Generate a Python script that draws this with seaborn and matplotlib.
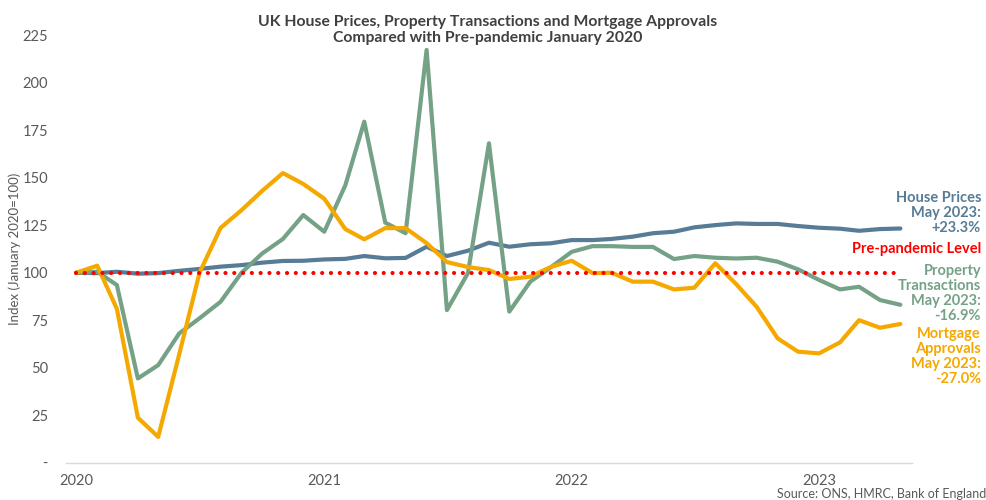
import matplotlib
matplotlib.use("Agg")
import matplotlib.pyplot as plt
import seaborn as sns
import pandas as pd

# monthly index values, Jan 2020 = 100
months = pd.date_range("2020-01-01", "2023-05-01", freq="MS")
house_prices = [100, 99.8, 100.5, 99.5, 99.8, 101, 102, 103.2, 104, 105.3, 106.2, 106.3,
                107, 107.3, 108.8, 107.6, 107.8, 113.7, 108.8, 111.6, 115.8, 113.7, 115, 115.5,
                117.2, 117.2, 117.8, 119, 120.8, 121.6, 123.9, 125.1, 126, 125.7, 125.7, 124.6,
                123.7, 123.2, 122.1, 123, 123.3]
transactions = [100, 100.5, 93.5, 44.3, 51.3, 68, 76, 84.7, 100, 110, 117.8, 130.4,
                121.6, 146, 179.6, 126.4, 120.8, 217.4, 80.3, 99.8, 168.2, 79.5, 95.3, 102.8,
                111, 114, 114, 113.6, 113.6, 107.2, 108.8, 107.9, 107.5, 107.9, 105.8, 101.8,
                96.2, 91.2, 92.6, 85.6, 83.1]
approvals = [100, 103.7, 81, 23.6, 13.5, 57, 100, 123.6, 133, 143, 152.5, 146.8,
             139, 123, 117.6, 123.5, 123.5, 115.6, 105.6, 103, 101.4, 96.7, 97.9, 103,
             106.3, 99.8, 100, 95.3, 95.3, 91.2, 92.1, 105, 93.9, 82, 65.4, 58.4,
             57.5, 63.3, 75, 71, 73]
baseline = 100
series_names = ["House Prices", "Property Transactions", "Mortgage Approvals"]
year_ticks = ["2020", "2021", "2022", "2023"]
y_ticks = [0, 25, 50, 75, 100, 125, 150, 175, 200, 225]

colors = {"House Prices": "#587b96",
          "Property Transactions": "#75a287",
          "Mortgage Approvals": "#f5a800"}

df = pd.DataFrame({"month": list(months) * 3,
                   "value": house_prices + transactions + approvals,
                   "series": [s for s in series_names for _ in months]})

sns.set_theme(style="white")
plt.rcParams["font.family"] = ["Lato", "DejaVu Sans"]

fig = plt.figure(figsize=(9.87, 5), dpi=100)
ax = fig.add_axes([0.0669, 0.075, 0.857, 0.854])

sns.lineplot(data=df, x="month", y="value", hue="series", palette=colors,
             linewidth=3, legend=False, ax=ax)
ax.hlines(baseline, months[0], months[-1], colors="#ff0000", linewidth=3,
          linestyles=(0, (0.01, 2.1)), capstyle="round", zorder=5)

ax.set_ylim(0, 225)
ax.set_xlim(pd.Timestamp("2019-12-17"), pd.Timestamp("2023-05-18"))
ax.set_yticks(y_ticks)
ax.set_yticklabels(["-"] + [str(v) for v in y_ticks[1:]])
ax.set_xticks([pd.Timestamp(y + "-01-01") for y in year_ticks])
ax.set_xticklabels(year_ticks)
ax.tick_params(axis="both", length=0, labelsize=10.5, labelcolor="#595959")
ax.tick_params(axis="y", pad=13)
ax.tick_params(axis="x", pad=8)
ax.set_xlabel("")
ax.set_ylabel("Index (January 2020=100)", fontsize=9.5, color="#595959")
ax.yaxis.set_label_coords(-0.053, 0.5)

for side in ["top", "right", "left"]:
    ax.spines[side].set_visible(False)
ax.spines["bottom"].set_color("#d9d9d9")
ax.spines["bottom"].set_linewidth(1)

fig.text(0.494, 0.94, "UK House Prices, Property Transactions and Mortgage Approvals\n"
         "Compared with Pre-pandemic January 2020", ha="center", va="center",
         fontsize=11.3, fontweight="bold", color="#404040", linespacing=1.25)

lab_x = 0.994
fig.text(lab_x, 1 - 213 / 500, "House Prices\nMay 2023:\n+23.3%", ha="right", va="center",
         fontsize=10.5, fontweight="bold", color=colors["House Prices"], linespacing=1.12)
fig.text(lab_x, 1 - 249 / 500, "Pre-pandemic Level", ha="right", va="center",
         fontsize=10.5, fontweight="bold", color="#ff0000")
fig.text(lab_x, 1 - 293.5 / 500, "Property\nTransactions\nMay 2023:\n-16.9%", ha="right",
         va="center", fontsize=10.5, fontweight="bold",
         color=colors["Property Transactions"], linespacing=1.12)
fig.text(lab_x, 1 - 356.5 / 500, "Mortgage\nApprovals\nMay 2023:\n-27.0%", ha="right",
         va="center", fontsize=10.5, fontweight="bold",
         color=colors["Mortgage Approvals"], linespacing=1.12)
fig.text(0.999, 0.012, "Source: ONS, HMRC, Bank of England", ha="right", va="center",
         fontsize=9, color="#595959")

fig.savefig("out.png", dpi=100)
